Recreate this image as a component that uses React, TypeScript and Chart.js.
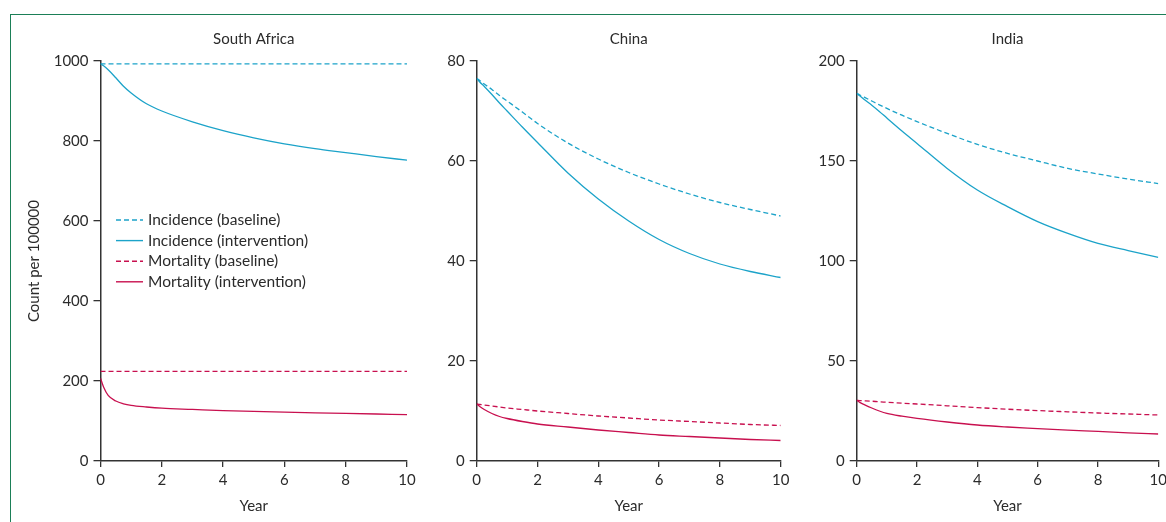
import React, { useEffect, useRef } from "react";
import { Chart, registerables } from "chart.js";
Chart.register(...registerables);

// ---- data ----
const years = [0, 0.1, 0.25, 0.5, 0.75, 1, 1.5, 2, 3, 4, 5, 6, 7, 8, 9, 10];
const xTicks = [0, 2, 4, 6, 8, 10];
const seriesLabels = [
  "Incidence (baseline)",
  "Incidence (intervention)",
  "Mortality (baseline)",
  "Mortality (intervention)",
];
const panelTitles = ["South Africa", "China", "India"];

// South Africa
const saIncBase = [993, 993, 993, 993, 993, 993, 993, 993, 993, 993, 993, 993, 993, 993, 993, 993];
const saIncInt = [993, 988, 978, 958, 937, 920, 893, 875, 848, 826, 808, 793, 781, 771, 761, 752];
const saMortBase = [224, 224, 224, 224, 224, 224, 224, 224, 224, 224, 224, 224, 224, 224, 224, 224];
const saMortInt = [207, 185, 164, 150, 143, 139, 135, 132, 129, 126, 124, 122, 120.5, 119, 117.5, 116];

// China
const cnIncBase = [76.5, 76.1, 75.4, 74.3, 73.1, 72.0, 69.8, 67.5, 63.6, 60.4, 57.7, 55.4, 53.4, 51.7, 50.3, 49.0];
const cnIncInt = [76.5, 75.8, 74.9, 73.3, 71.6, 70.0, 66.8, 63.7, 57.6, 52.4, 48.0, 44.3, 41.5, 39.4, 37.9, 36.7];
const cnMortBase = [11.4, 11.3, 11.2, 11.0, 10.8, 10.6, 10.3, 10.0, 9.5, 9.0, 8.6, 8.2, 7.9, 7.6, 7.3, 7.1];
const cnMortInt = [11.4, 10.9, 10.3, 9.5, 8.9, 8.5, 7.9, 7.4, 6.8, 6.2, 5.7, 5.2, 4.9, 4.6, 4.3, 4.1];

// India
const inIncBase = [183.8, 183.0, 181.9, 180.0, 178.1, 176.3, 172.9, 169.7, 163.8, 158.3, 153.8, 150.0, 146.3, 143.5, 141.0, 138.7];
const inIncInt = [183.8, 182.6, 180.8, 177.9, 174.8, 171.5, 165.0, 158.8, 146.3, 135.5, 127.2, 119.7, 113.8, 108.8, 105.2, 101.8];
const inMortBase = [30.3, 30.2, 30.1, 29.9, 29.6, 29.4, 28.9, 28.5, 27.6, 26.7, 25.9, 25.2, 24.6, 24.0, 23.5, 23.0];
const inMortInt = [30.3, 29.3, 28.2, 26.5, 25.0, 23.8, 22.4, 21.3, 19.5, 18.0, 17.0, 16.2, 15.4, 14.8, 14.1, 13.5];

const yMaxes = [1000, 80, 200];
const ySteps = [200, 20, 50];

// ---- styles ----
const CYAN = "#1ca3c9";
const CRIMSON = "#c8104f";
const TEXT = "#2b2b2b";
const AXIS = "#333333";
const FONT = "Lato, 'Open Sans', sans-serif";

type PanelCfg = {
  idx: number;
  data: number[][];
  left: number;
  width: number;
  padLeft: number;
  yWidth: number;
  padRight: number;
  yTitle: boolean;
  legend: boolean;
};

const legendPlugin = {
  id: "insideLegend",
  afterDatasetsDraw(chart: any) {
    const opts = chart.options.plugins.insideLegend;
    if (!opts || !opts.display) return;
    const ctx = chart.ctx;
    ctx.save();
    chart.data.datasets.forEach((ds: any, i: number) => {
      const y = 220 + i * 20.6;
      ctx.beginPath();
      ctx.strokeStyle = ds.borderColor;
      ctx.lineWidth = 1.4;
      ctx.setLineDash(ds.borderDash || []);
      ctx.moveTo(116, y);
      ctx.lineTo(143, y);
      ctx.stroke();
      ctx.setLineDash([]);
      ctx.fillStyle = TEXT;
      ctx.font = `15.5px ${FONT}`;
      ctx.textBaseline = "middle";
      ctx.textAlign = "left";
      ctx.fillText(ds.label, 148, y);
    });
    ctx.restore();
  },
};

function Panel({ cfg }: { cfg: PanelCfg }) {
  const ref = useRef<HTMLCanvasElement>(null);
  useEffect(() => {
    if (!ref.current) return;
    const colors = [CYAN, CYAN, CRIMSON, CRIMSON];
    const dashes = [[5, 3], [], [5, 3], []];
    const chart = new Chart(ref.current, {
      type: "line",
      data: {
        datasets: cfg.data.map((arr, i) => ({
          label: seriesLabels[i],
          data: years.map((x, j) => ({ x, y: arr[j] })),
          borderColor: colors[i],
          backgroundColor: colors[i],
          borderDash: dashes[i],
          borderWidth: 1.3,
          pointRadius: 0,
          cubicInterpolationMode: "monotone",
          fill: false,
        })),
      },
      options: {
        animation: false,
        responsive: false,
        maintainAspectRatio: false,
        layout: { padding: { left: cfg.padLeft, right: cfg.padRight, top: 0, bottom: 7 } },
        plugins: {
          legend: { display: false },
          tooltip: { enabled: false },
          title: {
            display: true,
            text: panelTitles[cfg.idx],
            color: TEXT,
            font: { family: FONT, size: 15, weight: "normal" },
            padding: { top: 30, bottom: 13 },
            fullSize: false,
          },
          insideLegend: { display: cfg.legend },
        } as any,
        scales: {
          x: {
            type: "linear",
            min: 0,
            max: 10,
            afterBuildTicks: (s: any) => {
              s.ticks = xTicks.map((v) => ({ value: v }));
            },
            ticks: {
              color: TEXT,
              font: { family: FONT, size: 15 },
              padding: 4,
              maxRotation: 0,
              callback: (v: any) => String(v),
            },
            grid: { drawOnChartArea: false, drawTicks: true, tickLength: 6, color: AXIS, lineWidth: 1.3 },
            border: { display: true, color: AXIS, width: 1.5 },
            title: {
              display: true,
              text: "Year",
              color: TEXT,
              font: { family: FONT, size: 15 },
              padding: { top: 0, bottom: 0 },
            },
            afterFit: (s: any) => {
              s.height = 54;
              s.paddingLeft = 0;
              s.paddingRight = 0;
            },
          },
          y: {
            type: "linear",
            min: 0,
            max: yMaxes[cfg.idx],
            ticks: {
              stepSize: ySteps[cfg.idx],
              color: TEXT,
              font: { family: FONT, size: 15 },
              padding: 5,
              callback: (v: any) => String(v),
            },
            grid: { drawOnChartArea: false, drawTicks: true, tickLength: 7, color: AXIS, lineWidth: 1.3 },
            border: { display: true, color: AXIS, width: 1.5 },
            title: {
              display: cfg.yTitle,
              text: "Count per 100000",
              color: TEXT,
              font: { family: FONT, size: 15 },
              padding: { top: 5, bottom: 0 },
            },
            afterFit: (s: any) => {
              s.width = cfg.yWidth;
              s.paddingTop = 0;
              s.paddingBottom = 0;
            },
          },
        },
      } as any,
      plugins: [legendPlugin],
    });
    return () => chart.destroy();
  }, [cfg]);
  return (
    <canvas
      ref={ref}
      width={cfg.width}
      height={522}
      style={{ position: "absolute", left: cfg.left, top: 0, width: cfg.width, height: 522 }}
    />
  );
}

const panels: PanelCfg[] = [
  { idx: 0, data: [saIncBase, saIncInt, saMortBase, saMortInt], left: 0, width: 420, padLeft: 20, yWidth: 80.5, padRight: 13, yTitle: true, legend: true },
  { idx: 1, data: [cnIncBase, cnIncInt, cnMortBase, cnMortInt], left: 420, width: 380, padLeft: 0, yWidth: 56.7, padRight: 19.3, yTitle: false, legend: false },
  { idx: 2, data: [inIncBase, inIncInt, inMortBase, inMortInt], left: 800, width: 366, padLeft: 0, yWidth: 56.7, padRight: 7.7, yTitle: false, legend: false },
];

export default function App() {
  return (
    <div style={{ position: "fixed", left: 0, top: 0, width: 1166, height: 522, background: "#ffffff", overflow: "hidden" }}>
      <div
        style={{
          position: "absolute",
          left: 10,
          top: 14,
          width: 1166,
          height: 522,
          borderTop: "1.5px solid #1b7f57",
          borderLeft: "1.5px solid #1b7f57",
        }}
      />
      {panels.map((p) => (
        <Panel key={p.idx} cfg={p} />
      ))}
    </div>
  );
}
